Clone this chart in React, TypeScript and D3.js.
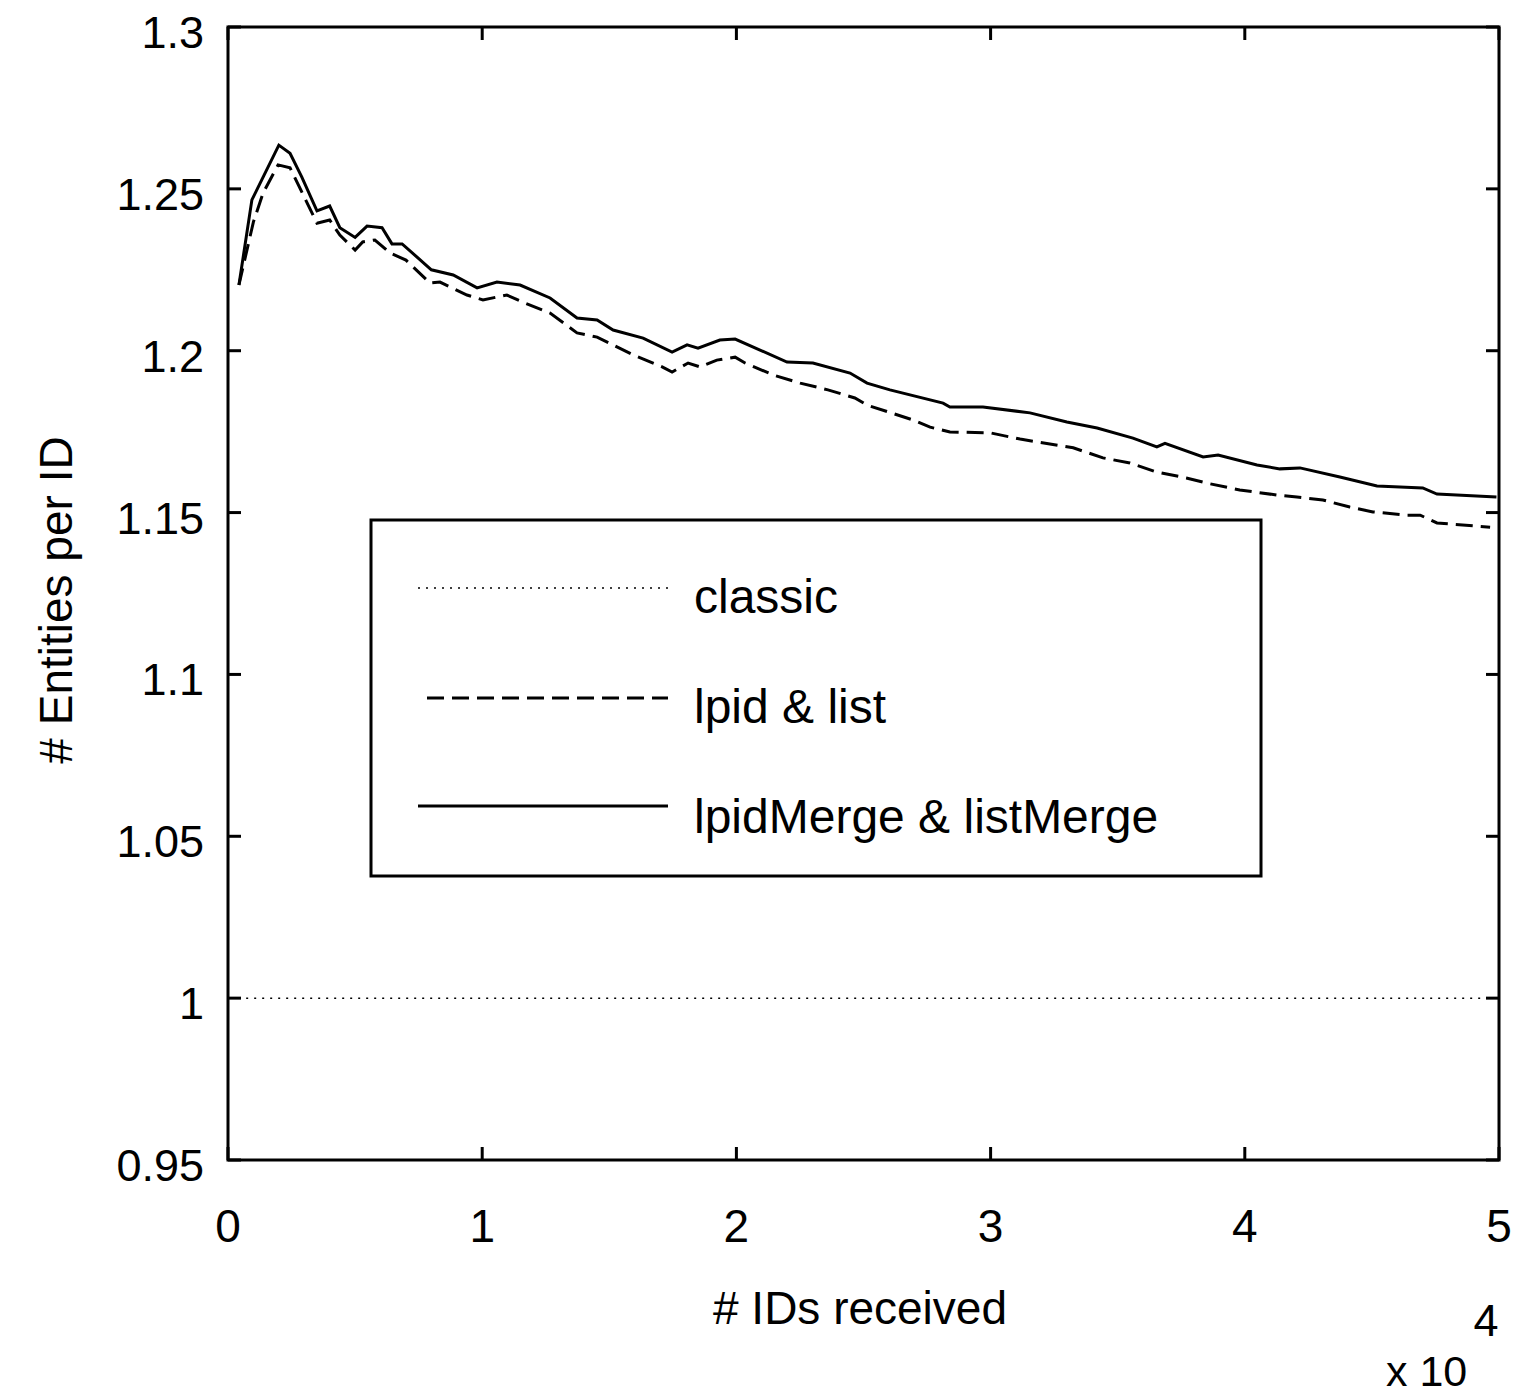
import React from "react";
import * as d3 from "d3";

const xTicks = [0, 1, 2, 3, 4, 5];
const yTicks = [0.95, 1, 1.05, 1.1, 1.15, 1.2, 1.25, 1.3];
const yTickLabels = ["0.95", "1", "1.05", "1.1", "1.15", "1.2", "1.25", "1.3"];

const classicX = [0.04, 5];
const classicY = [1, 1];

const mergeX = [0.043, 0.094, 0.2, 0.244, 0.29, 0.35, 0.4, 0.44, 0.5, 0.547, 0.606, 0.645, 0.685, 0.8, 0.886, 0.98, 1.058, 1.149, 1.267, 1.373, 1.452, 1.515, 1.633, 1.747, 1.806, 1.849, 1.935, 1.995, 2.093, 2.199, 2.301, 2.447, 2.514, 2.604, 2.813, 2.84, 2.97, 3.155, 3.3, 3.419, 3.56, 3.654, 3.686, 3.836, 3.895, 4.048, 4.138, 4.217, 4.374, 4.52, 4.7, 4.756, 4.99];
const mergeY = [1.2203, 1.2466, 1.2635, 1.261, 1.2537, 1.2432, 1.2447, 1.238, 1.235, 1.2385, 1.238, 1.233, 1.233, 1.225, 1.2234, 1.2194, 1.2212, 1.2203, 1.2163, 1.2101, 1.2095, 1.2064, 1.2039, 1.1996, 1.2018, 1.2008, 1.2033, 1.2036, 1.2002, 1.1965, 1.1962, 1.1931, 1.19, 1.1879, 1.1838, 1.1826, 1.1826, 1.1808, 1.178, 1.1761, 1.173, 1.1703, 1.1714, 1.1672, 1.1678, 1.1647, 1.1635, 1.1638, 1.161, 1.1582, 1.1576, 1.1557, 1.1548];

const listX = [0.043, 0.1, 0.138, 0.197, 0.244, 0.35, 0.4, 0.44, 0.5, 0.53, 0.578, 0.637, 0.7, 0.795, 0.834, 0.94, 1.003, 1.097, 1.16, 1.267, 1.373, 1.452, 1.594, 1.708, 1.747, 1.81, 1.857, 1.923, 1.995, 2.034, 2.145, 2.251, 2.36, 2.466, 2.514, 2.695, 2.762, 2.84, 3.0, 3.116, 3.325, 3.442, 3.548, 3.654, 3.77, 3.85, 3.98, 4.127, 4.205, 4.307, 4.413, 4.504, 4.638, 4.69, 4.756, 4.965];
const listY = [1.2203, 1.2398, 1.2487, 1.2574, 1.2565, 1.2394, 1.2404, 1.2357, 1.2311, 1.2336, 1.2342, 1.2302, 1.228, 1.2209, 1.2212, 1.2172, 1.2157, 1.2172, 1.215, 1.2116, 1.2055, 1.2042, 1.1987, 1.195, 1.1934, 1.1962, 1.195, 1.1971, 1.198, 1.1962, 1.1925, 1.19, 1.1879, 1.1854, 1.1832, 1.1786, 1.1764, 1.1749, 1.1746, 1.1727, 1.17, 1.1669, 1.1653, 1.1625, 1.1607, 1.1591, 1.157, 1.1554, 1.1548, 1.1539, 1.1517, 1.1502, 1.1492, 1.1492, 1.1468, 1.1455];

const legendLabels = ["classic", "lpid & list", "lpidMerge & listMerge"];

const W = 1517;
const H = 1398;
const L = 228;
const R = 1499;
const T = 27;
const B = 1160;
const FONT = "'Liberation Sans', Arial, Helvetica, sans-serif";

export default function App() {
  const x = d3.scaleLinear().domain([0, 5]).range([L, R]);
  const y = d3.scaleLinear().domain([0.95, 1.3]).range([B, T]);
  const line = (xs: number[], ys: number[]) =>
    d3.line<number>().x((_, i) => x(xs[i])).y((v) => y(v))(ys) || "";

  const tickLen = 13;
  const legend = { x0: 371, y0: 520, x1: 1261, y1: 876 };
  const legendRows = [
    { y: 588, dash: "2,6", w: 1.5, lx0: 418, ty: 613 },
    { y: 698, dash: "17,8", w: 3, lx0: 427, ty: 723 },
    { y: 806, dash: "none", w: 3, lx0: 418, ty: 833 },
  ];

  return (
    <div style={{ position: "absolute", left: 0, top: 0 }}>
      <svg width={W} height={H} style={{ display: "block", background: "#ffffff" }}>
        <rect x={0} y={0} width={W} height={H} fill="#ffffff" />
        {/* data */}
        <path d={line(classicX, classicY)} fill="none" stroke="#000" strokeWidth={1.5} strokeDasharray="2,6" />
        <path d={line(listX, listY)} fill="none" stroke="#000" strokeWidth={3} strokeDasharray="17,8" />
        <path d={line(mergeX, mergeY)} fill="none" stroke="#000" strokeWidth={3} />

        {/* axes box */}
        <rect x={L} y={T} width={R - L} height={B - T} fill="none" stroke="#000" strokeWidth={3} />
        {xTicks.map((t) => (
          <g key={"x" + t}>
            <line x1={x(t)} x2={x(t)} y1={B} y2={B - tickLen} stroke="#000" strokeWidth={3} />
            <line x1={x(t)} x2={x(t)} y1={T} y2={T + tickLen} stroke="#000" strokeWidth={3} />
            <text x={x(t)} y={1242} textAnchor="middle" fontFamily={FONT} fontSize={46} fill="#000">
              {t}
            </text>
          </g>
        ))}
        {yTicks.map((t, i) => (
          <g key={"y" + t}>
            <line x1={L} x2={L + tickLen} y1={y(t)} y2={y(t)} stroke="#000" strokeWidth={3} />
            <line x1={R} x2={R - tickLen} y1={y(t)} y2={y(t)} stroke="#000" strokeWidth={3} />
            <text x={204} y={y(t) + 21} textAnchor="end" fontFamily={FONT} fontSize={45} fill="#000">
              {yTickLabels[i]}
            </text>
          </g>
        ))}

        {/* axis titles */}
        <text x={860} y={1324} textAnchor="middle" fontFamily={FONT} fontSize={46} fill="#000">
          # IDs received
        </text>
        <text transform="translate(72,600) rotate(-90)" textAnchor="middle" fontFamily={FONT} fontSize={46} fill="#000">
          # Entities per ID
        </text>
        <text x={1486} y={1336} textAnchor="middle" fontFamily={FONT} fontSize={45} fill="#000">
          4
        </text>
        <text x={1386} y={1386} textAnchor="start" fontFamily={FONT} fontSize={43} fill="#000">
          x 10
        </text>

        {/* legend */}
        <rect x={legend.x0} y={legend.y0} width={legend.x1 - legend.x0} height={legend.y1 - legend.y0} fill="#fff" stroke="#000" strokeWidth={3} />
        {legendRows.map((r, i) => (
          <g key={"lg" + i}>
            <line x1={r.lx0} x2={668} y1={r.y} y2={r.y} stroke="#000" strokeWidth={r.w} strokeDasharray={r.dash} />
            <text x={694} y={r.ty} fontFamily={FONT} fontSize={48} fill="#000">
              {legendLabels[i]}
            </text>
          </g>
        ))}
      </svg>
    </div>
  );
}
